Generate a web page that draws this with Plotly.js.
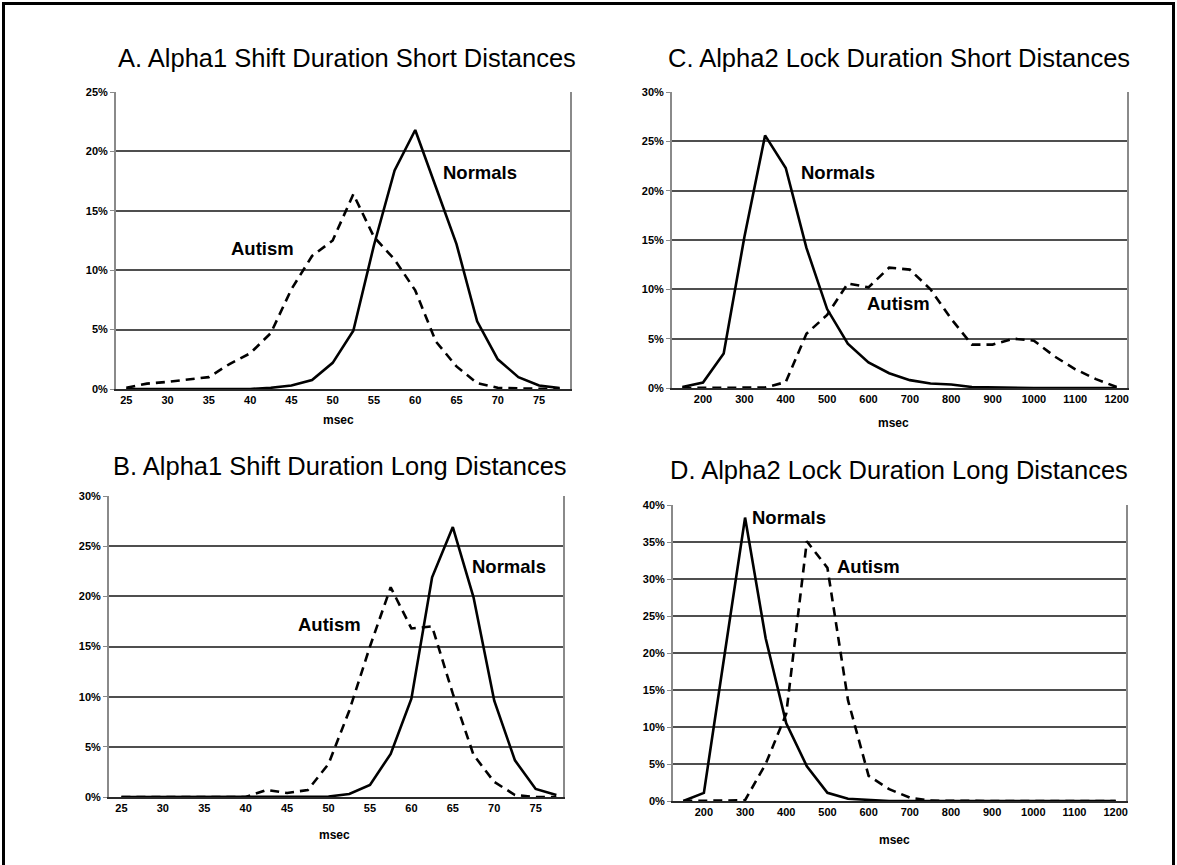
<!DOCTYPE html>
<html>
<head>
<meta charset="utf-8">
<script src="https://cdn.plot.ly/plotly-3.0.1.min.js"></script>
<style>
  html, body { margin: 0; padding: 0; background: #ffffff; }
  #chart { width: 1177px; height: 865px; }
</style>
</head>
<body>
<div id="chart"></div>
<script>
// ---------- data ----------
const msecShort = [25, 27.5, 30, 32.5, 35, 37.5, 40, 42.5, 45, 47.5, 50, 52.5, 55, 57.5, 60, 62.5, 65, 67.5, 70, 72.5, 75, 77.5];
const msecLock = [150, 200, 250, 300, 350, 400, 450, 500, 550, 600, 650, 700, 750, 800, 850, 900, 950, 1000, 1050, 1100, 1150, 1200];

const normalsA = [0, 0, 0, 0, 0.05, 0, 0, 0.1, 0.3, 0.75, 2.2, 4.9, 12.1, 18.4, 21.8, 17.0, 12.2, 5.7, 2.5, 1.0, 0.3, 0.08];
const autismA  = [0.1, 0.45, 0.6, 0.8, 1.0, 2.1, 3.0, 4.7, 8.4, 11.2, 12.5, 16.4, 12.8, 10.9, 8.3, 4.0, 1.9, 0.5, 0.1, 0.05, 0, 0];

const normalsB = [0, 0, 0, 0, 0, 0, 0, 0, 0, 0, 0.05, 0.3, 1.2, 4.3, 9.8, 21.9, 26.9, 19.9, 9.6, 3.65, 0.8, 0.2];
const autismB  = [0, 0, 0, 0, 0, 0, 0, 0.7, 0.4, 0.7, 3.3, 8.6, 15.0, 20.9, 16.8, 17.0, 10.3, 4.2, 1.5, 0.2, 0, 0];

const normalsC = [0.1, 0.55, 3.5, 15.3, 25.6, 22.3, 14.2, 8.0, 4.5, 2.6, 1.5, 0.8, 0.45, 0.35, 0.1, 0.05, 0, 0, 0, 0, 0, 0];
const autismC  = [0, 0, 0, 0, 0.05, 0.6, 5.5, 7.4, 10.6, 10.2, 12.2, 12.0, 10.0, 7.0, 4.4, 4.4, 5.0, 4.8, 3.2, 1.9, 0.9, 0.1];

const normalsD = [0, 1.1, 19.7, 38.3, 22.0, 10.5, 4.7, 1.1, 0.3, 0.1, 0, 0, 0, 0, 0, 0, 0, 0, 0, 0, 0, 0];
const autismD  = [0, 0, 0, 0.1, 5.0, 11.8, 35.1, 31.5, 13.6, 3.4, 1.6, 0.45, 0.05, 0, 0, 0, 0, 0, 0, 0, 0, 0];

const ticksShort = [25, 30, 35, 40, 45, 50, 55, 60, 65, 70, 75];
const ticksLock = [200, 300, 400, 500, 600, 700, 800, 900, 1000, 1100, 1200];

const panelTitles = [
  "A. Alpha1 Shift Duration Short Distances",
  "B. Alpha1 Shift Duration Long Distances",
  "C. Alpha2 Lock Duration Short Distances",
  "D. Alpha2 Lock Duration Long Distances"
];
const xTitle = "msec";
const seriesNames = ["Normals", "Autism"];

// ---------- layout helpers ----------
const W = 1177, H = 865;
const px = x => x / W;
const py = y => 1 - y / H;
const FONT = "Liberation Sans, Arial, Helvetica, sans-serif";

const solid = { color: "#000000", width: 2.6 };
const dashed = { color: "#000000", width: 2.6, dash: "9px,6px" };

function trace(x, y, name, line, xa, ya) {
  return { type: "scatter", mode: "lines", x: x, y: y, name: name, line: line,
           xaxis: xa, yaxis: ya, showlegend: false, hoverinfo: "skip" };
}

const data = [
  trace(msecShort, autismA, seriesNames[1], dashed, "x", "y"),
  trace(msecShort, normalsA, seriesNames[0], solid, "x", "y"),
  trace(msecShort, autismB, seriesNames[1], dashed, "x2", "y2"),
  trace(msecShort, normalsB, seriesNames[0], solid, "x2", "y2"),
  trace(msecLock, autismC, seriesNames[1], dashed, "x3", "y3"),
  trace(msecLock, normalsC, seriesNames[0], solid, "x3", "y3"),
  trace(msecLock, autismD, seriesNames[1], dashed, "x4", "y4"),
  trace(msecLock, normalsD, seriesNames[0], solid, "x4", "y4")
];

function xAxis(x0, x1, range, ticks, anchor) {
  return {
    domain: [px(x0), px(x1)], range: range, anchor: anchor,
    tickmode: "array", tickvals: ticks,
    showgrid: false, zeroline: false,
    showline: true, linecolor: "#2a2a2a", linewidth: 2,
    ticks: "", tickfont: { family: FONT, size: 11, color: "#000", weight: "bold" },
    fixedrange: true
  };
}
function yAxis(y0, y1, ymax, anchor) {
  return {
    domain: [py(y1), py(y0)], range: [0, ymax], anchor: anchor,
    dtick: 5, tick0: 0, ticksuffix: "%",
    showgrid: true, gridcolor: "#4f4f4f", gridwidth: 2,
    zeroline: false,
    showline: true, linecolor: "#8a8a8a", linewidth: 2, mirror: true,
    ticks: "outside", ticklen: 4, tickcolor: "#8a8a8a", tickwidth: 1,
    tickfont: { family: FONT, size: 11, color: "#000", weight: "bold" },
    fixedrange: true
  };
}

function label(text, x, y, size, bold) {
  return { text: text, xref: "paper", yref: "paper", x: px(x), y: py(y),
           xanchor: "center", yanchor: "middle", showarrow: false,
           font: { family: FONT, size: size, color: "#000", weight: bold ? "bold" : "normal" } };
}

const layout = {
  width: W, height: H,
  margin: { l: 0, r: 0, t: 0, b: 0, autoexpand: false },
  paper_bgcolor: "#ffffff", plot_bgcolor: "#ffffff",
  showlegend: false,
  xaxis:  xAxis(116, 570, [23.75, 78.75], ticksShort, "y"),
  yaxis:  yAxis(92, 389, 25, "x"),
  xaxis2: xAxis(109, 563, [23.5, 78.3], ticksShort, "y2"),
  yaxis2: yAxis(496, 797, 30, "x2"),
  xaxis3: xAxis(672, 1127, [125, 1225], ticksLock, "y3"),
  yaxis3: yAxis(92, 388, 30, "x3"),
  xaxis4: xAxis(673, 1126, [125, 1225], ticksLock, "y4"),
  yaxis4: yAxis(505, 801, 40, "x4"),
  annotations: [
    label(panelTitles[0], 347, 58, 25.5, false),
    label(panelTitles[1], 340, 466, 25.5, false),
    label(panelTitles[2], 899, 58, 25.5, false),
    label(panelTitles[3], 899, 470, 25.5, false),
    label(xTitle, 338, 420, 12, true),
    label(xTitle, 334, 835, 12, true),
    label(xTitle, 893, 423, 12, true),
    label(xTitle, 894, 840, 12, true),
    label(seriesNames[0], 480, 172, 18.5, true),
    label(seriesNames[1], 262, 248, 18.5, true),
    label(seriesNames[0], 509, 566, 18.5, true),
    label(seriesNames[1], 330, 624, 18.5, true),
    label(seriesNames[0], 838, 172, 18.5, true),
    label(seriesNames[1], 898, 303, 18.5, true),
    label(seriesNames[0], 789, 517, 18.5, true),
    label(seriesNames[1], 868, 566, 18.5, true)
  ],
  shapes: [
    { type: "line", xref: "paper", yref: "paper", x0: px(3.5), x1: px(3.5), y0: 0, y1: py(2), line: { color: "#000", width: 3 } },
    { type: "line", xref: "paper", yref: "paper", x0: px(2), x1: px(1175), y0: py(3.5), y1: py(3.5), line: { color: "#000", width: 3 } },
    { type: "line", xref: "paper", yref: "paper", x0: px(1173.5), x1: px(1173.5), y0: 0, y1: py(2), line: { color: "#000", width: 3 } }
  ]
};

Plotly.newPlot("chart", data, layout, { staticPlot: true, displayModeBar: false });
</script>
</body>
</html>
